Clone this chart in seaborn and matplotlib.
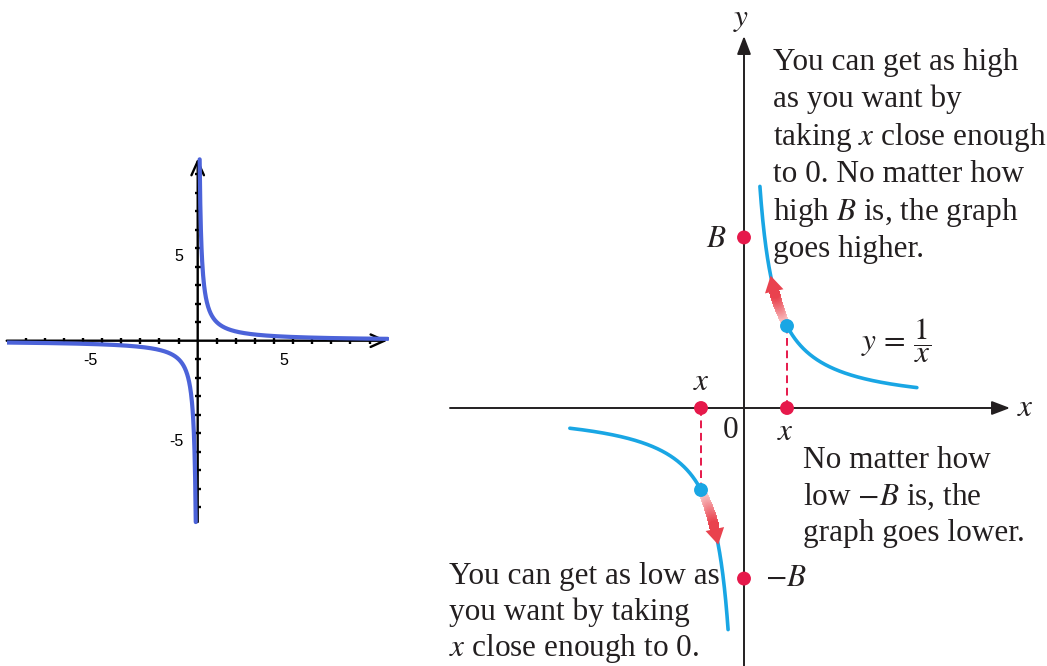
import numpy as np
import pandas as pd
import matplotlib
matplotlib.use("Agg")
import matplotlib.pyplot as plt
import seaborn as sns
from matplotlib.collections import LineCollection
from matplotlib.patches import FancyArrowPatch
from matplotlib.colors import to_rgb

# ---------------- data ----------------
# Left graph: y = 1/x on a [-10, 10] window, branches stop where |y| reaches ~9.8
left_branch_neg = (-10.0, -0.102)
left_branch_pos = (0.102, 9.95)
left_ticks = list(range(-9, 0)) + list(range(1, 10))
left_tick_labels = [-5, 5]

# Right sketch: y = 1/x (horizontal and vertical units differ)
right_branch_neg = (-4.05, -0.37)
right_branch_pos = (0.37, 4.02)
sample_x = [-1.0, 1.0]          # the two x values marked on the x-axis
bound_B = 2.08                  # level B (and -B) marked on the y-axis
arrow_tip_x = [-0.60, 0.62]     # x where each "keep going" arrow ends
arrow_head_x = [-0.68, 0.70]    # x where each arrowhead starts

blurb_high = ["You can get as high", "as you want by", r"taking $x$ close enough",
              "to 0. No matter how", r"high $B$ is, the graph", "goes higher."]
blurb_low_note = ["No matter how", r"low $-B$ is, the", "graph goes lower."]
blurb_low = ["You can get as low as", "you want by taking", r"$x$ close enough to 0."]

# ---------------- style ----------------
sns.set_theme(style="white")
plt.rcParams["font.family"] = ["Liberation Serif", "DejaVu Serif"]
plt.rcParams["mathtext.fontset"] = "stix"

INK = "#231f20"
LEFT_BLUE = "#4c63d9"
CYAN = "#19a6e4"
RED = "#e6194b"
W, H = 1047, 666


def branch(lo, hi, n=600):
    xs = np.linspace(lo, hi, n)
    return pd.DataFrame({"x": xs, "y": 1.0 / xs})


fig = plt.figure(figsize=(W / 100, H / 100), dpi=100)
fig.patch.set_facecolor("white")

# ================= left graph =================
axl = fig.add_axes([6.7 / W, (H - 525.7) / H, 382 / W, 370 / H])
axl.set_xlim(-10, 10)
axl.set_ylim(-10, 10)
axl.axis("off")

# axes with arrowheads
small_arrow = dict(arrowstyle="->,head_length=1.0,head_width=0.45",
                   lw=1.7, color="black", shrinkA=0, shrinkB=0, mutation_scale=10)
axl.annotate("", xy=(9.93, 0), xytext=(-10, 0), arrowprops=small_arrow, zorder=2)
axl.annotate("", xy=(0, 9.85), xytext=(0, -9.8), arrowprops=small_arrow, zorder=2)
# integer tick marks
axl.plot(left_ticks, np.zeros(len(left_ticks)), ls="none", marker="|",
         ms=5, mew=1.7, color="black", zorder=2)
axl.plot(np.zeros(len(left_ticks)), left_ticks, ls="none", marker="_",
         ms=5, mew=1.7, color="black", zorder=2)

for lo, hi in (left_branch_neg, left_branch_pos):
    sns.lineplot(data=branch(lo, hi), x="x", y="y", ax=axl, color=LEFT_BLUE,
                 lw=3.0, sort=False, estimator=None, zorder=3)

for v in left_tick_labels:
    axl.annotate(f"{v}", xy=(v, 0), xytext=(-3.5, -14.6), textcoords="offset points",
                 ha="right", va="center", fontsize=11.5, family="Liberation Sans",
                 color="black")
    axl.annotate(f"{v}", xy=(0, v), xytext=(-10.5, -5.8), textcoords="offset points",
                 ha="right", va="center", fontsize=11.5, family="Liberation Sans",
                 color="black")

# ================= right sketch =================
UX, UY, OX, OY = 43.0, 82.0, 744.0, 408.0   # pixels per unit and origin
axr = fig.add_axes([440 / W, 0, (W - 440) / W, 1])
axr.set_xlim((440 - OX) / UX, (W - OX) / UX)
axr.set_ylim((OY - H) / UY, OY / UY)
axr.axis("off")
axr.patch.set_alpha(0)


def rp(px, py):
    """pixel position inside the figure -> right-sketch data units"""
    return ((px - OX) / UX, (OY - py) / UY)


x_lo, _ = rp(450, 0)
x_hi, _ = rp(1010, 0)
_, y_lo = rp(0, H + 2)
_, y_hi = rp(0, 36)
axis_arrow = dict(arrowstyle="-|>,head_length=1.1,head_width=0.42", lw=1.4,
                  color=INK, shrinkA=0, shrinkB=0, mutation_scale=10)
axr.annotate("", xy=(x_hi, 0), xytext=(x_lo, 0), arrowprops=axis_arrow, zorder=2)
axr.annotate("", xy=(0, y_hi), xytext=(0, y_lo), arrowprops=axis_arrow, zorder=2)

for lo, hi in (right_branch_neg, right_branch_pos):
    sns.lineplot(data=branch(lo, hi), x="x", y="y", ax=axr, color=CYAN,
                 lw=2.6, sort=False, estimator=None, zorder=3)

# dashed drops from the curve to the x-axis
for xv in sample_x:
    axr.plot([xv, xv], [0, 1.0 / xv], ls=(0, (4, 2.4)), lw=1.4, color=RED, zorder=3)

# gradient arrows running along the curve toward the asymptote
pale, strong = np.array(to_rgb("#fde6e4")), np.array(to_rgb("#e9424e"))
for x0, xh, xt in zip(sample_x, arrow_head_x, arrow_tip_x):
    xs = np.linspace(x0, xh + 0.01 * np.sign(xh), 80)
    pts = np.column_stack([xs, 1.0 / xs])
    segs = np.stack([pts[:-1], pts[1:]], axis=1)
    t = np.linspace(0, 1, len(segs))
    cols = pale + (strong - pale) * t[:, None] ** 1.3
    lc = LineCollection(segs, colors=cols, linewidths=np.linspace(5.0, 6.8, len(segs)),
                        capstyle="round", antialiaseds=False, zorder=4)
    axr.add_collection(lc)
    head = FancyArrowPatch(posA=(xh, 1.0 / xh), posB=(xt, 1.0 / xt),
                           arrowstyle="-|>,head_length=1.15,head_width=0.68",
                           mutation_scale=10, color=strong, lw=0,
                           shrinkA=0, shrinkB=0, zorder=4)
    axr.add_patch(head)

# marked points
sns.scatterplot(x=sample_x + [0, 0], y=[0, 0, bound_B, -bound_B], ax=axr,
                s=100, color=RED, edgecolor="none", zorder=6, legend=False)
sns.scatterplot(x=sample_x, y=[1.0 / v for v in sample_x], ax=axr,
                s=100, color=CYAN, edgecolor="none", zorder=6, legend=False)

FS = 22.5
# point labels
axr.annotate("$x$", xy=(sample_x[0], 0), xytext=(0, 18), textcoords="offset points",
             ha="center", va="center", fontsize=FS, color=INK)
axr.annotate("$x$", xy=(sample_x[1], 0), xytext=(-1, -17.5), textcoords="offset points",
             ha="center", va="center", fontsize=FS, color=INK)
axr.annotate("0", xy=(0, 0), xytext=(-9.5, -16), textcoords="offset points",
             ha="center", va="center", fontsize=FS, color=INK)
axr.annotate("$B$", xy=(0, bound_B), xytext=(-20, -1.5), textcoords="offset points",
             ha="center", va="center", fontsize=FS, color=INK)
axr.annotate("$-B$", xy=(0, -bound_B), xytext=(15, 0), textcoords="offset points",
             ha="left", va="center", fontsize=FS, color=INK)
axr.text(*rp(741, 20), "$y$", ha="center", va="center", fontsize=FS, color=INK)
axr.text(*rp(1025, 408), "$x$", ha="center", va="center", fontsize=FS, color=INK)
axr.text(*rp(896, 341), r"$y\,=\,\dfrac{1}{x}$", ha="center", va="center",
         fontsize=FS, color=INK)

# explanatory blurbs, one baseline per line
for lines, left, base0, step in ((blurb_high, 773, 70, 37.4),
                                 (blurb_low_note, 803, 468, 36.5),
                                 (blurb_low, 449, 584, 36.0)):
    for i, line in enumerate(lines):
        axr.text(*rp(left, base0 + i * step), line, ha="left", va="baseline",
                 fontsize=FS, color=INK, zorder=7)

fig.savefig("out.png", dpi=100, facecolor="white")
